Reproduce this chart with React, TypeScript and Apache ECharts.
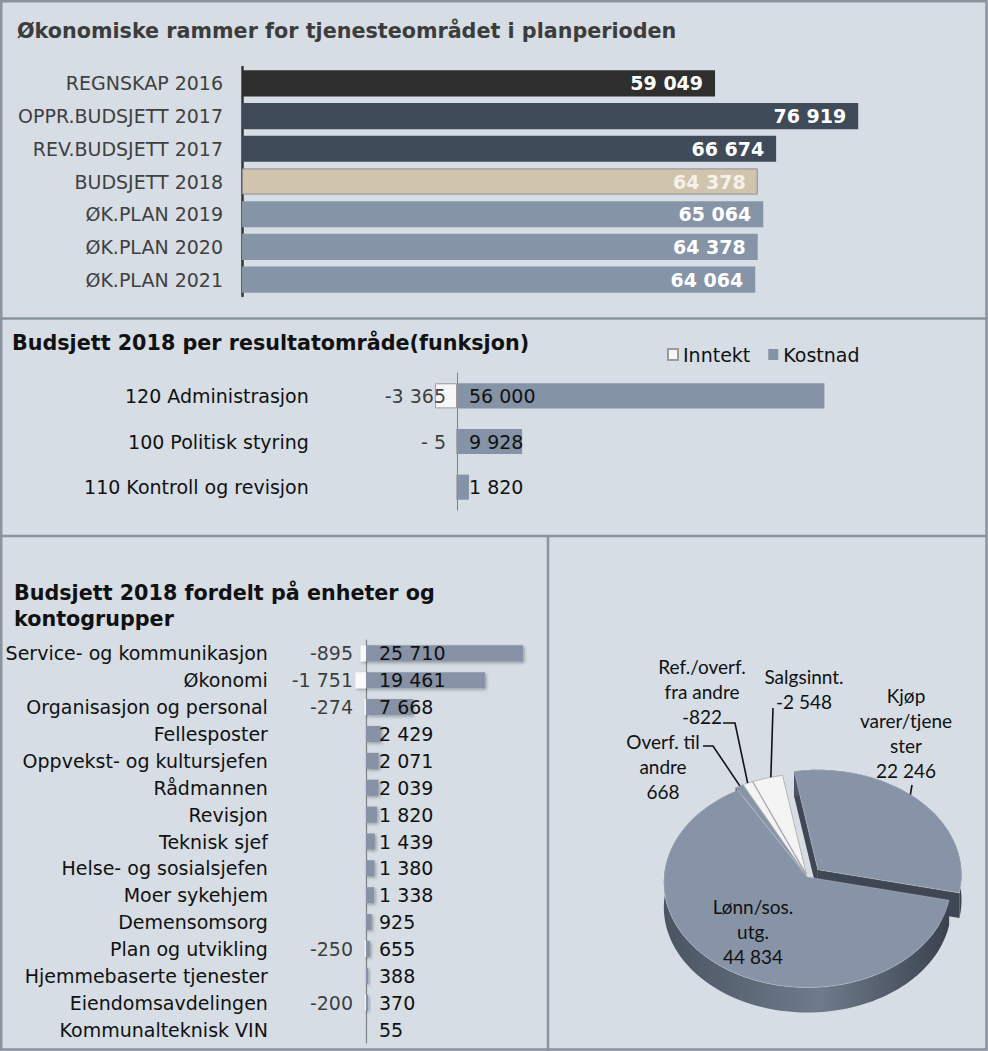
import { useEffect, useRef } from "react";
import * as echarts from "echarts";

// ---------- DATA ----------
const topCategories = [
  "REGNSKAP 2016",
  "OPPR.BUDSJETT 2017",
  "REV.BUDSJETT 2017",
  "BUDSJETT 2018",
  "ØK.PLAN 2019",
  "ØK.PLAN 2020",
  "ØK.PLAN 2021",
];
const topValues = [59049, 76919, 66674, 64378, 65064, 64378, 64064];

const funcCategories = ["120 Administrasjon", "100 Politisk styring", "110 Kontroll og revisjon"];
const funcInntekt = [-3365, -5, 0];
const funcKostnad = [56000, 9928, 1820];

const unitCategories = [
  "Service- og kommunikasjon",
  "Økonomi",
  "Organisasjon og personal",
  "Fellesposter",
  "Oppvekst- og kultursjefen",
  "Rådmannen",
  "Revisjon",
  "Teknisk sjef",
  "Helse- og sosialsjefen",
  "Moer sykehjem",
  "Demensomsorg",
  "Plan og utvikling",
  "Hjemmebaserte tjenester",
  "Eiendomsavdelingen",
  "Kommunalteknisk VIN",
];
const unitInntekt = [-895, -1751, -274, 0, 0, 0, 0, 0, 0, 0, 0, -250, 0, -200, 0];
const unitKostnad = [25710, 19461, 7668, 2429, 2071, 2039, 1820, 1439, 1380, 1338, 925, 655, 388, 370, 55];

const pieCategories = ["Kjøp varer/tjenester", "Lønn/sos. utg.", "Overf. til andre", "Ref./overf. fra andre", "Salgsinnt."];
const pieLabelNames = ["Kjøp\nvarer/tjene\nster", "Lønn/sos.\nutg.", "Overf. til\nandre", "Ref./overf.\nfra andre", "Salgsinnt."];
const pieValues = [22246, 44834, 668, -822, -2548];

// ---------- STYLE / LAYOUT ----------
const FONT = "DejaVu Sans";
const BG = "#d6dde4";
const BORDER = "#8a949e";
const topColors = ["#2f2f2f", "#404b5a", "#404b5a", "#d1c4af", "#8594a7", "#8594a7", "#8594a7"];

const PIE = { cx: 807.5, cy: 877, rx: 143.5, ry: 105, k: 0.05, depth: 25, start: -10 };
const pieExplode = [0.1, 0, 0.03, 0.03, 0.03];
const pieLabelLayout: { x: number; y: number; leader: number[][] | null; edge: number }[] = [
  { x: 906, y: 732.5, leader: [[912, 785]], edge: 42 },
  { x: 753, y: 931.5, leader: null, edge: 0 },
  { x: 663, y: 766, leader: [[703, 746], [713, 746]], edge: 331.5 },
  { x: 702, y: 691, leader: [[723, 723], [735, 723]], edge: 335 },
  { x: 804, y: 688.5, leader: [[773, 708]], edge: 345 },
];

const fmt = (v: number) =>
  (v < 0 ? "-" : "") + String(Math.abs(Math.round(v))).replace(/\B(?=(\d{3})+(?!\d))/g, " ");
const fmtFunc = (v: number) => (v < 0 && Math.abs(v) < 1000 ? "- " + Math.abs(v) : fmt(v));

function pieProject(deg: number, frac: number) {
  const t = (deg * Math.PI) / 180;
  const u = Math.sin(t) * frac;
  const v = Math.cos(t) * frac;
  const s = 1 / (1 + PIE.k * v);
  return [PIE.cx + PIE.rx * u * s, PIE.cy - PIE.ry * v * s];
}

function sliceGeom(i: number) {
  const abs = pieValues.map((v) => Math.abs(v));
  const total = abs.reduce((a, b) => a + b, 0);
  let before = 0;
  for (let j = 0; j < i; j++) before += abs[j];
  const a = PIE.start + (before / total) * 360;
  const b = a + (abs[i] / total) * 360;
  const mid = (a + b) / 2;
  const c = pieProject(mid, pieExplode[i]);
  const off = [c[0] - PIE.cx, c[1] - PIE.cy];
  const n = Math.max(2, Math.ceil((b - a) / 2));
  const arc: number[][] = [];
  for (let k = 0; k <= n; k++) {
    const p = pieProject(a + ((b - a) * k) / n, 1);
    arc.push([p[0] + off[0], p[1] + off[1]]);
  }
  return { a, b, mid, off, apex: [PIE.cx + off[0], PIE.cy + off[1]], arc };
}

export default function App() {
  const ref = useRef<HTMLDivElement>(null);

  useEffect(() => {
    if (!ref.current) return;
    const chart = echarts.init(ref.current, null, { renderer: "svg" });
    const D = PIE.depth;

    const option: any = {
      animation: false,
      backgroundColor: BG,
      textStyle: { fontFamily: FONT },
      title: [
        {
          text: "Økonomiske rammer for tjenesteområdet i planperioden",
          left: 12,
          top: 15,
          textStyle: { fontSize: 20.7, fontWeight: "bold", color: "#3c3c3c", fontFamily: FONT },
        },
        {
          text: "Budsjett 2018 per resultatområde(funksjon)",
          left: 7,
          top: 327,
          textStyle: { fontSize: 20.7, fontWeight: "bold", color: "#111", fontFamily: FONT },
        },
        {
          text: "Budsjett 2018 fordelt på enheter og\nkontogrupper",
          left: 9,
          top: 575,
          textStyle: { fontSize: 20.7, fontWeight: "bold", color: "#111", fontFamily: FONT, lineHeight: 26 },
        },
      ],
      legend: {
        left: 662,
        top: 340,
        icon: "rect",
        itemWidth: 10,
        itemHeight: 11,
        itemGap: 18,
        selectedMode: false,
        data: ["Inntekt", "Kostnad"],
        textStyle: { fontSize: 19, color: "#111", fontFamily: FONT },
      },
      grid: [
        { left: 242, top: 67, width: 721, height: 229, outerBoundsMode: "none" },
        { left: 325.8, top: 373, width: 590.4, height: 137, outerBoundsMode: "none" },
        { left: 304.9, top: 640, width: 232.2, height: 403, outerBoundsMode: "none" },
      ],
      xAxis: [
        { gridIndex: 0, type: "value", min: 0, max: 90000, show: false },
        { gridIndex: 1, type: "value", min: -20000, max: 70000, show: false },
        { gridIndex: 2, type: "value", min: -10000, max: 28000, show: false },
      ],
      yAxis: [
        {
          gridIndex: 0,
          type: "category",
          data: topCategories,
          inverse: true,
          axisLine: { lineStyle: { color: "#333", width: 2.5 } },
          axisTick: { show: false },
          axisLabel: { fontSize: 19, color: "#404040", margin: 19, fontFamily: FONT },
        },
        {
          gridIndex: 1,
          type: "category",
          data: funcCategories,
          inverse: true,
          axisLine: { onZero: true, lineStyle: { color: "#808080", width: 1 } },
          axisTick: { show: false },
          axisLabel: { fontSize: 19, color: "#111", margin: 17, fontFamily: FONT },
        },
        {
          gridIndex: 2,
          type: "category",
          data: unitCategories,
          inverse: true,
          axisLine: { onZero: true, lineStyle: { color: "#808080", width: 1.2 } },
          axisTick: { show: false },
          axisLabel: { fontSize: 19, color: "#111", margin: 37, fontFamily: FONT },
        },
      ],
      series: [
        {
          type: "bar",
          name: "Ramme",
          xAxisIndex: 0,
          yAxisIndex: 0,
          barCategoryGap: "20%",
          data: topValues.map((v, i) => ({
            value: v,
            itemStyle: {
              color: topColors[i],
              borderColor: i === 3 ? "#8c8c8c" : undefined,
              borderWidth: i === 3 ? 1 : 0,
            },
            label: { color: i === 3 ? "#f6f2ea" : "#ffffff" },
          })),
          label: {
            show: true,
            position: "insideRight",
            distance: 12,
            fontSize: 19,
            fontWeight: "bold",
            fontFamily: FONT,
            formatter: (p: any) => fmt(p.value),
          },
        },
        {
          type: "bar",
          name: "Inntekt",
          xAxisIndex: 1,
          yAxisIndex: 1,
          stack: "func",
          barCategoryGap: "45%",
          data: funcInntekt,
          itemStyle: { color: "#f7f7f7", borderColor: "#9b9b9b", borderWidth: 1 },
        },
        {
          type: "bar",
          name: "Kostnad",
          xAxisIndex: 1,
          yAxisIndex: 1,
          stack: "func",
          barCategoryGap: "45%",
          data: funcKostnad,
          itemStyle: { color: "#8593a6" },
          label: {
            show: true,
            position: "insideLeft",
            distance: 12,
            fontSize: 19,
            color: "#111",
            fontFamily: FONT,
            formatter: (p: any) => fmt(p.value),
          },
        },
        {
          type: "scatter",
          name: "InntektEtikett",
          xAxisIndex: 1,
          yAxisIndex: 1,
          symbolSize: 0,
          silent: true,
          data: funcInntekt.map((_, i) => [0, i]),
          label: {
            show: true,
            position: "left",
            distance: 11,
            fontSize: 19,
            color: "#111",
            fontFamily: FONT,
            formatter: (p: any) => (funcInntekt[p.dataIndex] ? fmtFunc(funcInntekt[p.dataIndex]) : ""),
          },
        },
        {
          type: "bar",
          name: "Inntekt enheter",
          xAxisIndex: 2,
          yAxisIndex: 2,
          stack: "unit",
          barCategoryGap: "40%",
          data: unitInntekt,
          itemStyle: {
            color: "#fafafa",
            shadowBlur: 3,
            shadowColor: "rgba(0,0,0,0.3)",
            shadowOffsetX: 1.5,
            shadowOffsetY: 1.5,
          },
        },
        {
          type: "bar",
          name: "Kostnad enheter",
          xAxisIndex: 2,
          yAxisIndex: 2,
          stack: "unit",
          barCategoryGap: "40%",
          data: unitKostnad,
          itemStyle: {
            color: "#8792a6",
            shadowBlur: 3,
            shadowColor: "rgba(0,0,0,0.3)",
            shadowOffsetX: 1.5,
            shadowOffsetY: 1.5,
          },
          label: {
            show: true,
            position: "insideLeft",
            distance: 13,
            fontSize: 19,
            color: "#111",
            fontFamily: FONT,
            formatter: (p: any) => fmt(p.value),
          },
        },
        {
          type: "scatter",
          name: "InntektEnhetEtikett",
          xAxisIndex: 2,
          yAxisIndex: 2,
          symbolSize: 0,
          silent: true,
          data: unitInntekt.map((_, i) => [0, i]),
          label: {
            show: true,
            position: "left",
            distance: 13,
            fontSize: 19,
            color: "#111",
            fontFamily: FONT,
            formatter: (p: any) => (unitInntekt[p.dataIndex] ? fmt(unitInntekt[p.dataIndex]) : ""),
          },
        },
        {
          type: "custom",
          name: "Kontogrupper sider",
          coordinateSystem: "none",
          silent: true,
          z: 2,
          data: pieValues.map((v, i) => [i, v]),
          renderItem: (params: any) => {
            const i = params.dataIndex;
            const g = sliceGeom(i);
            const neg = pieValues[i] < 0;
            const first = g.arc[0];
            const last = g.arc[g.arc.length - 1];
            const radialFill = neg ? "#b4b8bd" : "#3e4753";
            const children: any[] = [];
            for (const e of [first, last]) {
              children.push({
                type: "polygon",
                shape: { points: [g.apex, e, [e[0], e[1] + D], [g.apex[0], g.apex[1] + D]] },
                style: { fill: radialFill },
              });
            }
            const wall = g.arc.concat(
              g.arc
                .slice()
                .reverse()
                .map((p) => [p[0], p[1] + D])
            );
            children.push({
              type: "polygon",
              shape: { points: wall },
              style: {
                fill: neg
                  ? "#c3c7cc"
                  : {
                      type: "linear",
                      x: 0,
                      y: 0,
                      x2: 1,
                      y2: 0,
                      colorStops: [
                        { offset: 0, color: "#4a5462" },
                        { offset: 0.55, color: "#6f7b8b" },
                        { offset: 1, color: "#3a424e" },
                      ],
                    },
              },
            });
            return { type: "group", children };
          },
        },
        {
          type: "custom",
          name: "Kontogrupper",
          coordinateSystem: "none",
          silent: true,
          z: 3,
          data: pieValues.map((v, i) => [i, v]),
          renderItem: (params: any, api: any) => {
            const i = params.dataIndex;
            const v = api.value(1);
            const g = sliceGeom(i);
            const neg = v < 0;
            const children: any[] = [
              {
                type: "polygon",
                shape: { points: [g.apex, ...g.arc] },
                style: {
                  fill: neg ? "#f4f4f4" : "#8794a7",
                  stroke: neg ? "rgba(120,120,120,0.6)" : "rgba(255,255,255,0.35)",
                  lineWidth: 0.7,
                },
              },
            ];
            const L = pieLabelLayout[i];
            if (L.leader) {
              const e = pieProject(L.edge, 1);
              children.push({
                type: "polyline",
                shape: { points: [...L.leader, [e[0] + g.off[0], e[1] + g.off[1]]] },
                style: { stroke: "#111", lineWidth: 1.6, fill: null },
                z2: 20,
              });
            }
            children.push({
              type: "text",
              x: L.x,
              y: L.y,
              z2: 30,
              style: {
                text: pieLabelNames[i] + "\n" + fmt(v),
                fontFamily: "Lato",
                fontSize: 19,
                lineHeight: 25,
                fill: "#111",
                align: "center",
                verticalAlign: "middle",
              },
            });
            return { type: "group", children };
          },
        },
      ],
      graphic: {
        elements: [
          {
            type: "rect",
            silent: true,
            shape: { x: 1.25, y: 1.25, width: 985.25, height: 1048.25 },
            style: { fill: "none", stroke: BORDER, lineWidth: 2.5 },
          },
          { type: "line", silent: true, shape: { x1: 0, y1: 318.5, x2: 988, y2: 318.5 }, style: { stroke: BORDER, lineWidth: 2.5 } },
          { type: "line", silent: true, shape: { x1: 0, y1: 536, x2: 988, y2: 536 }, style: { stroke: BORDER, lineWidth: 2.5 } },
          { type: "line", silent: true, shape: { x1: 548, y1: 536, x2: 548, y2: 1051 }, style: { stroke: BORDER, lineWidth: 2.5 } },
        ],
      },
    };

    chart.setOption(option);
    return () => chart.dispose();
  }, []);

  return (
    <div
      ref={ref}
      style={{ position: "absolute", left: 0, top: 0, width: 988, height: 1051 }}
    />
  );
}
